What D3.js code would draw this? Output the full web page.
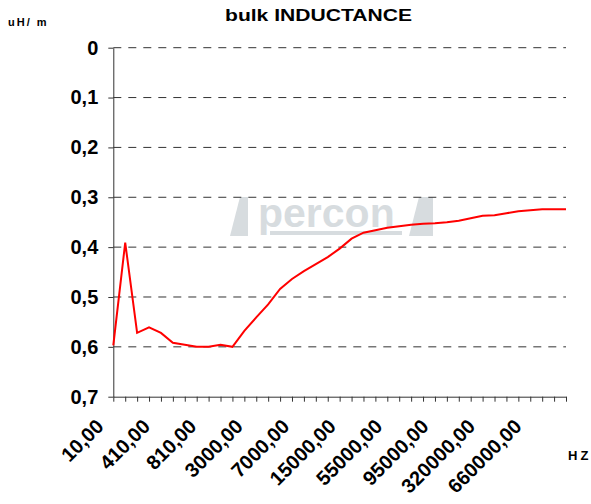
<!DOCTYPE html>
<html>
  <head>
    <meta charset="utf-8">
    <title>bulk INDUCTANCE</title>
    <style>
      body { margin: 0; background: #fff; }
      text { font-family: "Liberation Sans", Arial, sans-serif; }
    </style>
  </head>
  <body>
    <script src="https://d3js.org/d3.v7.min.js"></script>
    <svg id="chart" width="591" height="504"></svg>
    <script>
      // frequencies (Hz), one per point on the curve
      const freqs = [10, 110, 210, 310, 410, 510, 610, 710, 810, 1000, 1500, 2000, 3000,
        4000, 5000, 6000, 7000, 8000, 9000, 10000, 15000, 25000, 35000, 45000, 55000,
        65000, 75000, 85000, 95000, 120000, 180000, 250000, 320000, 400000, 500000,
        600000, 660000, 760000, 860000]

      // inductance in uH/m
      const inductance = [0.597, 0.391, 0.572, 0.561, 0.572, 0.592, 0.596, 0.600, 0.600,
        0.596, 0.600, 0.568, 0.541, 0.515, 0.484, 0.464, 0.448, 0.434, 0.420, 0.403,
        0.383, 0.371, 0.366, 0.361, 0.358, 0.355, 0.353, 0.352, 0.350, 0.347, 0.342,
        0.337, 0.336, 0.332, 0.328, 0.326, 0.324, 0.324, 0.324]

      const yTicks = [0, 0.1, 0.2, 0.3, 0.4, 0.5, 0.6, 0.7]
      const labelEvery = 4

      const locale = d3.formatLocale({ decimal: ',', thousands: '.', grouping: [3], currency: ['', ''] })
      const fmtY = d => d === 0 ? '0' : locale.format('.1f')(d)
      const fmtX = locale.format('.2f')

      const svg = d3.select('#chart')
      const plotLeft = 113.3, plotRight = 566, plotTop = 47.7, plotBottom = 396.7

      const x = d3.scalePoint().domain(freqs).range([plotLeft, plotRight])
      // axis runs downward: 0 on top, 0,7 at the bottom
      const y = d3.scaleLinear().domain([0, 0.7]).range([plotTop, plotBottom])

      // watermark logo
      const wm = svg.append('g').attr('fill', '#d7dcdf')
      wm.append('polygon').attr('points', '230,236 240,197 248,197 248,236')
      wm.append('polygon').attr('points', '409,236 419,197 433,197 433,236')
      wm.append('rect').attr('x', 270).attr('y', 231).attr('width', 132).attr('height', 4)
      wm.append('text')
        .attr('x', 258).attr('y', 227)
        .attr('font-size', 41).attr('font-weight', 'bold')
        .text('percon')

      // dashed gridlines
      svg.append('g')
        .selectAll('line')
        .data(yTicks.slice(0, -1))
        .join('line')
          .attr('x1', plotLeft).attr('x2', plotRight)
          .attr('y1', d => y(d)).attr('y2', d => y(d))
          .attr('stroke', '#333')
          .attr('stroke-dasharray', '8,7')

      // y axis
      const yAxis = svg.append('g')
        .attr('transform', `translate(${plotLeft},0)`)
        .call(d3.axisLeft(y).tickValues(yTicks).tickSize(5).tickSizeOuter(0).tickFormat(fmtY))
      yAxis.selectAll('path, line').attr('stroke', '#333')
      yAxis.selectAll('text')
        .attr('x', -15)
        .attr('font-size', 20).attr('font-weight', 'bold')
        .attr('font-family', '"Liberation Sans", Arial, sans-serif')
        .attr('fill', '#000')

      // x axis
      const xAxis = svg.append('g')
        .attr('transform', `translate(0,${plotBottom})`)
        .call(d3.axisBottom(x).tickSize(5).tickSizeOuter(0)
          .tickFormat((d, i) => i % labelEvery === 0 ? fmtX(d) : ''))
      xAxis.selectAll('path, line').attr('stroke', '#333')
      xAxis.selectAll('.tick text')
        .attr('y', 0).attr('dy', 0)
        .attr('text-anchor', 'end')
        .attr('transform', (d, i) => `translate(${-9 - 0.3 * i},31) rotate(-45)`)
        .attr('font-size', 20).attr('font-weight', 'bold')
        .attr('font-family', '"Liberation Sans", Arial, sans-serif')
        .attr('fill', '#000')

      // the curve
      const line = d3.line()
        .x((d, i) => x(freqs[i]))
        .y(d => y(d))
      svg.append('path')
        .datum(inductance)
        .attr('d', line)
        .attr('fill', 'none')
        .attr('stroke', '#ff0000')
        .attr('stroke-width', 2)

      // titles
      svg.append('text')
        .attr('x', 225).attr('y', 21)
        .attr('font-size', 17).attr('font-weight', 'bold')
        .attr('textLength', 187).attr('lengthAdjust', 'spacingAndGlyphs')
        .text('bulk INDUCTANCE')
      svg.append('text')
        .attr('x', 8).attr('y', 26)
        .attr('font-size', 11).attr('font-weight', 'bold')
        .attr('letter-spacing', 2)
        .text('uH/ m')
      svg.append('text')
        .attr('x', 568).attr('y', 460)
        .attr('font-size', 13).attr('font-weight', 'bold')
        .attr('letter-spacing', 3)
        .text('HZ')
    </script>
  </body>
</html>
